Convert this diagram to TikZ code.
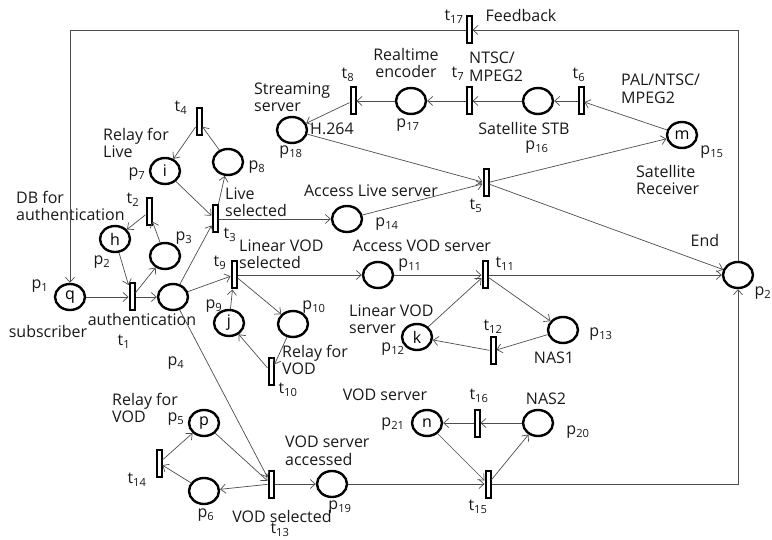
\documentclass[tikz,border=0pt]{standalone}
\usepackage{fontspec}
\setmainfont{Open Sans}
\usetikzlibrary{arrows.meta,shapes.geometric}
\newcommand{\pnum}[1]{p\textsubscript{#1}}
\newcommand{\tnum}[1]{t\textsubscript{#1}}

\begin{document}
\begin{tikzpicture}[->,>={Straight Barb[length=5pt,width=9pt]},x=1pt,y=-1pt,
    every edge/.style={draw=black!70,line width=0.7pt},
    font=\fontsize{16}{17.5}\selectfont]
        \tikzstyle{place} = [ellipse, draw=black, line width=2.4pt, fill=white, minimum width=30pt, minimum height=26pt, inner sep=0pt]
        \tikzstyle{trans} = [rectangle, draw=black, line width=2pt, fill=white, minimum width=5pt, minimum height=27pt, inner sep=0pt]
        \tikzstyle{lbl} = [inner sep=0pt, text=black!90]
        \tikzstyle{arc} = [draw=black!70, line width=0.7pt]

        \useasboundingbox (0,0) rectangle (772,540);

        % Places
        \node[place] (p1) at (70,297) {q};
        \node[place] (p2) at (115,239) {h};
        \node[place] (p3) at (165,256) {};
        \node[place] (p4) at (173,297) {};
        \node[place] (p5) at (204,423) {p};
        \node[place] (p6) at (204,491) {};
        \node[place] (p7) at (165,171) {i};
        \node[place] (p8) at (228,162) {};
        \node[place] (p9) at (229,323) {j};
        \node[place] (p10) at (293,324) {};
        \node[place] (p11) at (378,275) {};
        \node[place] (p12) at (417,337) {k};
        \node[place] (p13) at (563,330) {};
        \node[place] (p14) at (347,219) {};
        \node[place] (p15) at (682,135) {m};
        \node[place] (p16) at (538,101) {};
        \node[place] (p17) at (411,101) {};
        \node[place] (p18) at (292,130) {};
        \node[place] (p19) at (332,484) {};
        \node[place] (p20) at (538,423) {};
        \node[place] (p21) at (427,423) {n};
        \node[place] (pend) at (738,275) {};

        % Transitions
        \node[trans] (t1) at (132,297) {};
        \node[trans] (t2) at (149,212) {};
        \node[trans] (t3) at (215,219) {};
        \node[trans] (t4) at (199,122) {};
        \node[trans] (t5) at (486,183) {};
        \node[trans] (t6) at (581,101) {};
        \node[trans] (t7) at (469,101) {};
        \node[trans] (t8) at (353,101) {};
        \node[trans] (t9) at (234,275) {};
        \node[trans] (t10) at (271,372) {};
        \node[trans] (t11) at (485,275) {};
        \node[trans] (t12) at (493,351) {};
        \node[trans] (t13) at (271,484) {};
        \node[trans] (t14) at (159,463) {};
        \node[trans] (t15) at (488,484) {};
        \node[trans] (t16) at (477,423) {};
        \node[trans] (t17) at (469,30) {};

        % Labels
        \node[lbl] at (521,16) {Feedback};
        \node[lbl] at (454,17) {\tnum{17}};
        \node[lbl, align=center] at (406,63) {Realtime\\encoder};
        \node[lbl] at (348,75) {\tnum{8}};
        \node[lbl, align=left, anchor=west] at (254,97) {Streaming\\server};
        \node[lbl] at (332,129) {H.264};
        \node[lbl] at (291,152) {\pnum{18}};
        \node[lbl] at (408,125) {\pnum{17}};
        \node[lbl, align=left, anchor=west] at (469,67) {NTSC/\\MPEG2};
        \node[lbl] at (458,74) {\tnum{7}};
        \node[lbl] at (524,129) {Satellite STB};
        \node[lbl] at (537,147) {\pnum{16}};
        \node[lbl] at (579,75) {\tnum{6}};
        \node[lbl, align=left, anchor=west] at (621,89) {PAL/NTSC/\\MPEG2};
        \node[lbl] at (712,152) {\pnum{15}};
        \node[lbl, align=left, anchor=west] at (636,180) {Satellite\\Receiver};
        \node[lbl] at (181,108) {\tnum{4}};
        \node[lbl, align=left, anchor=west] at (103,143) {Relay for\\Live};
        \node[lbl] at (137,174) {\pnum{7}};
        \node[lbl] at (257,167) {\pnum{8}};
        \node[lbl, align=left, anchor=west] at (16,206) {DB for\\authentication};
        \node[lbl] at (133,200) {\tnum{2}};
        \node[lbl] at (102,262) {\pnum{2}};
        \node[lbl] at (184,238) {\pnum{3}};
        \node[lbl, align=left, anchor=west] at (225,202) {Live\\selected};
        \node[lbl] at (230,235) {\tnum{3}};
        \node[lbl] at (371,191) {Access Live server};
        \node[lbl] at (387,224) {\pnum{14}};
        \node[lbl] at (476,206) {\tnum{5}};
        \node[lbl] at (705,241) {End};
        \node[lbl] at (763,293) {\pnum{2}};
        \node[lbl] at (40,286) {\pnum{1}};
        \node[lbl] at (48,332) {subscriber};
        \node[lbl] at (142,320) {authentication};
        \node[lbl] at (124,342) {\tnum{1}};
        \node[lbl] at (176,363) {\pnum{4}};
        \node[lbl] at (220,263) {\tnum{9}};
        \node[lbl, align=left, anchor=west] at (239,254) {Linear VOD\\selected};
        \node[lbl] at (214,306) {\pnum{9}};
        \node[lbl] at (314,307) {\pnum{10}};
        \node[lbl, align=left, anchor=west] at (282,360) {Relay for\\VOD};
        \node[lbl] at (288,390) {\tnum{10}};
        \node[lbl] at (422,246) {Access VOD server};
        \node[lbl] at (410,265) {\pnum{11}};
        \node[lbl] at (505,264) {\tnum{11}};
        \node[lbl, align=left, anchor=west] at (349,319) {Linear VOD\\server};
        \node[lbl] at (393,349) {\pnum{12}};
        \node[lbl] at (493,327) {\tnum{12}};
        \node[lbl] at (601,334) {\pnum{13}};
        \node[lbl] at (554,358) {NAS1};
        \node[lbl] at (385,395) {VOD server};
        \node[lbl] at (479,396) {\tnum{16}};
        \node[lbl] at (546,399) {NAS2};
        \node[lbl] at (393,424) {\pnum{21}};
        \node[lbl] at (578,432) {\pnum{20}};
        \node[lbl, align=left, anchor=west] at (112,408) {Relay for\\VOD};
        \node[lbl] at (176,419) {\pnum{5}};
        \node[lbl] at (137,480) {\tnum{14}};
        \node[lbl] at (206,515) {\pnum{6}};
        \node[lbl, align=left, anchor=west] at (285,451) {VOD server\\accessed};
        \node[lbl] at (340,507) {\pnum{19}};
        \node[lbl] at (282,516) {VOD selected};
        \node[lbl] at (280,530) {\tnum{13}};
        \node[lbl] at (478,507) {\tnum{15}};

        % Edges
        \path (p1) edge (t1);
        \path (t1) edge (p4);
        \path (t1) edge (p3);
        \path (p2) edge (t1);
        \path (p3) edge (t2);
        \path (t2) edge (p2);
        \path (p4) edge (t3);
        \path (p7) edge (t3);
        \path (t3) edge (p8);
        \path (p8) edge (t4);
        \path (t4) edge (p7);
        \path (t3) edge (p14);
        \path (p14) edge (t5);
        \path (p18) edge (t5);
        \path (t5) edge (p15);
        \path (t5) edge (pend);
        \path (p15) edge (t6);
        \path (t6) edge (p16);
        \path (p16) edge (t7);
        \path (t7) edge (p17);
        \path (p17) edge (t8);
        \path (t8) edge (p18);
        \path (p4) edge (t9);
        \path (t9) edge (p11);
        \path (t9) edge (p10);
        \path (p10) edge (t10);
        \path (t10) edge (p9);
        \path (p9) edge (t9);
        \path (p11) edge (t11);
        \path (t11) edge (pend);
        \path (t11) edge (p13);
        \path (p13) edge (t12);
        \path (t12) edge (p12);
        \path (p12) edge (t11);
        \path (p4) edge (t13);
        \path (p5) edge (t13);
        \path (t13) edge (p6);
        \path (p6) edge (t14);
        \path (t14) edge (p5);
        \path (t13) edge (p19);
        \path (p19) edge (t15);
        \path (p21) edge (t15);
        \path (t15) edge (p20);
        \path (p20) edge (t16);
        \path (t16) edge (p21);
        % feedback loop
        \draw[arc] (t15) -| (pend);
        \draw[arc] (pend) |- (t17);
        \draw[arc] (t17) -| (p1);
    \end{tikzpicture}
\end{document}
